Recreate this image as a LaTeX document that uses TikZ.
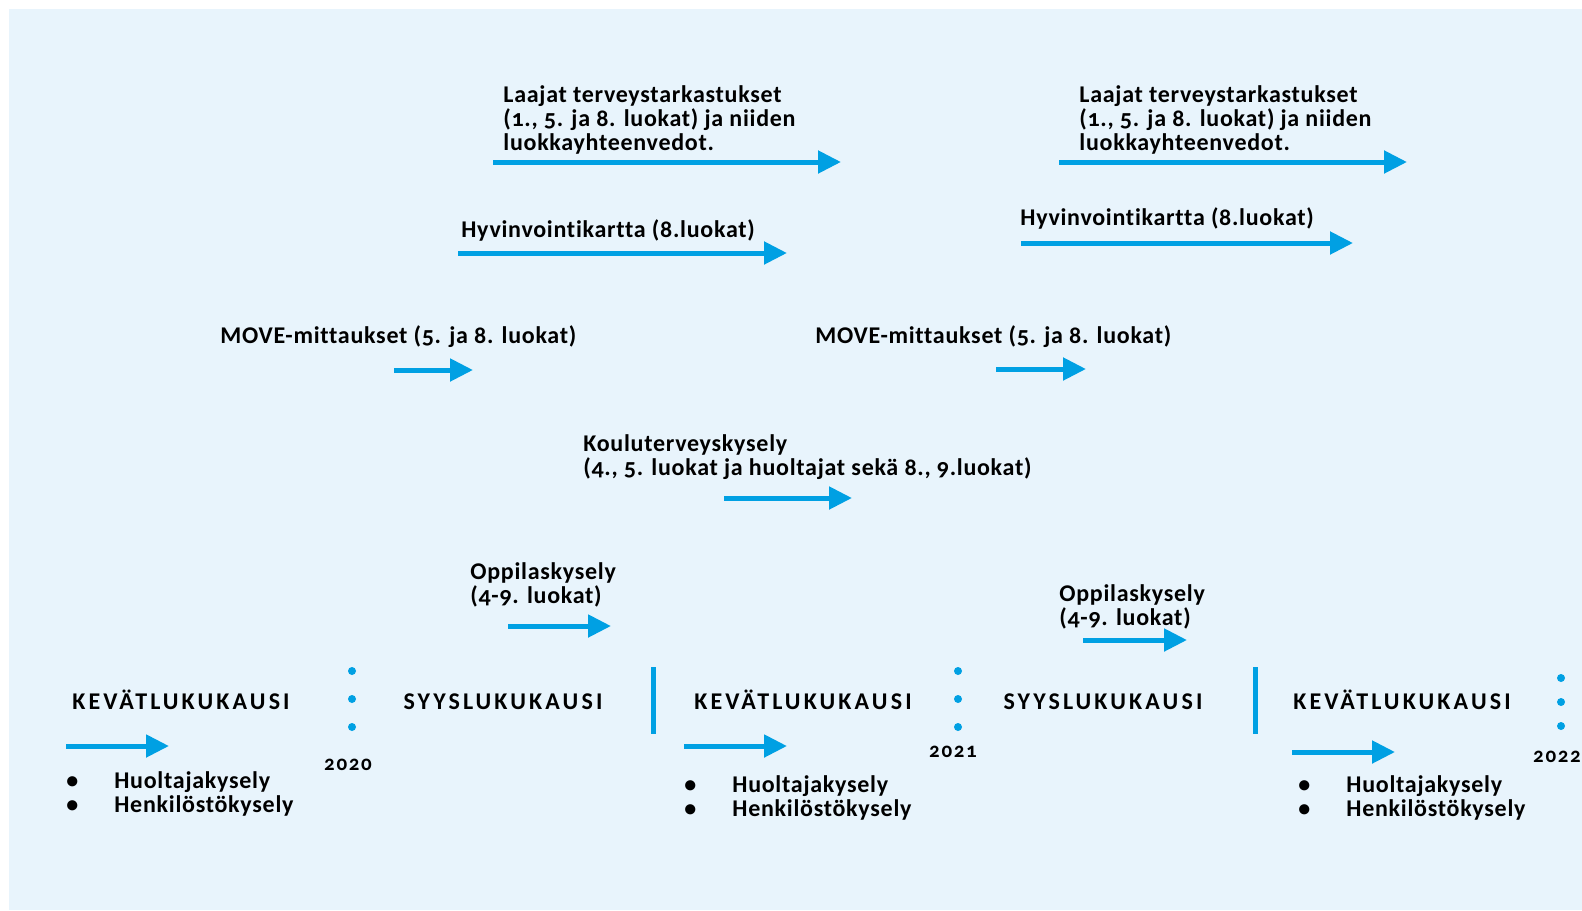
\documentclass[tikz,border=0pt]{standalone}
\usepackage{fontspec}
\setmainfont{Carlito}[Numbers=OldStyle,Ligatures=NoCommon]
\usepackage{tikz}
\usetikzlibrary{positioning,arrows.meta}
\definecolor{mybg}{RGB}{232,244,252}
\definecolor{myblue}{RGB}{0,160,227}

\begin{document}
\begin{tikzpicture}[x=0.5pt,y=-0.5pt,
  lbl/.style={anchor=base west,inner sep=0pt,align=left,
    font=\fontsize{12}{12}\selectfont\bfseries\addfontfeature{LetterSpace=3}},
  season/.style={anchor=base,inner sep=0pt,
    font=\fontsize{12}{12}\selectfont\bfseries\addfontfeature{LetterSpace=13}},
  yr/.style={anchor=base,inner sep=0pt,
    font=\fontsize{10.5}{10}\selectfont\bfseries\addfontfeature{LetterSpace=8}},
  arr/.style={myblue,line width=2.5pt,-{Triangle[length=11.5pt,width=11pt]}},
  sepbar/.style={myblue,line width=2.5pt},
  bdot/.style={circle,fill=myblue,inner sep=0pt,minimum size=4pt}
]
\useasboundingbox (0,0) rectangle (1582,910);
\fill[mybg] (9,9) rectangle (1582,910);

% the upper events (base = last line)
\node[lbl] (lt1) at (503,150) {Laajat terveystarkastukset\\(1., 5. ja 8. luokat) ja niiden\\luokkayhteenvedot.};
\node[lbl] (lt2) at (1079,150) {Laajat terveystarkastukset\\(1., 5. ja 8. luokat) ja niiden\\luokkayhteenvedot.};
\node[lbl] (hk1) at (461,237) {Hyvinvointikartta (8.luokat)};
\node[lbl] (hk2) at (1020,225) {Hyvinvointikartta (8.luokat)};
\node[lbl] (mv1) at (220,343) {MOVE-mittaukset (5. ja 8. luokat)};
\node[lbl] (mv2) at (815,343) {MOVE-mittaukset (5. ja 8. luokat)};
\node[lbl] (kt) at (583,475) {Kouluterveyskysely\\(4., 5. luokat ja huoltajat sekä 8., 9.luokat)};
\node[lbl] (op1) at (470,603) {Oppilaskysely\\(4-9. luokat)};
\node[lbl] (op2) at (1059,625) {Oppilaskysely\\(4-9. luokat)};

% the arrows
\coordinate (lt1s) at (493,162); \coordinate (lt1e) at (841,162);
\coordinate (lt2s) at (1059,162); \coordinate (lt2e) at (1407,162);
\coordinate (hk1s) at (458,253); \coordinate (hk1e) at (787,253);
\coordinate (hk2s) at (1021,243); \coordinate (hk2e) at (1353,243);
\coordinate (mv1s) at (394,370); \coordinate (mv1e) at (473,370);
\coordinate (mv2s) at (996,369); \coordinate (mv2e) at (1086,369);
\coordinate (kts) at (724,498); \coordinate (kte) at (852,498);
\coordinate (op1s) at (508,626); \coordinate (op1e) at (611,626);
\coordinate (op2s) at (1083,640); \coordinate (op2e) at (1187,640);
\coordinate (kv1s) at (66,746); \coordinate (kv1e) at (169,746);
\coordinate (kv2s) at (684,746); \coordinate (kv2e) at (787,746);
\coordinate (kv3s) at (1292,752); \coordinate (kv3e) at (1395,752);
\foreach \a in {lt1,lt2,hk1,hk2,mv1,mv2,kt,op1,op2,kv1,kv2,kv3}
  \draw[arr] (\a s) -- (\a e);

% the terms
\node[season] (kv1) at (181,709) {KEVÄTLUKUKAUSI};
\node[season] (sy1) at (503,709) {SYYSLUKUKAUSI};
\node[season] (kv2) at (803,709) {KEVÄTLUKUKAUSI};
\node[season] (sy2) at (1103,709) {SYYSLUKUKAUSI};
\node[season] (kv3) at (1402,709) {KEVÄTLUKUKAUSI};

% the year marks
\foreach \i/\x/\y in {a/352/671,b/958/671}{
  \node[bdot] (\i1) at (\x,\y) {};
  \node[bdot] (\i2) at (\x,\y+28) {};
  \node[bdot] (\i3) at (\x,\y+56) {};
}
\node[bdot] (c1) at (1561,678) {};
\node[bdot] (c2) at (1561,702) {};
\node[bdot] (c3) at (1561,726) {};
\node[yr] (y20) at (348,770) {2020};
\node[yr] (y21) at (953,757) {2021};
\node[yr] (y22) at (1557,762) {2022};

% the separators
\coordinate (s1t) at (653,667); \coordinate (s1b) at (653,734);
\coordinate (s2t) at (1255,667); \coordinate (s2b) at (1255,734);
\draw[sepbar] (s1t) -- (s1b);
\draw[sepbar] (s2t) -- (s2b);

% the lists
\node[lbl] (ls1) at (66,812) {\makebox[24pt][l]{\textbullet}Huoltajakysely\\\makebox[24pt][l]{\textbullet}Henkilöstökysely};
\node[lbl] (ls2) at (684,816) {\makebox[24pt][l]{\textbullet}Huoltajakysely\\\makebox[24pt][l]{\textbullet}Henkilöstökysely};
\node[lbl] (ls3) at (1298,816) {\makebox[24pt][l]{\textbullet}Huoltajakysely\\\makebox[24pt][l]{\textbullet}Henkilöstökysely};
\end{tikzpicture}
\end{document}
